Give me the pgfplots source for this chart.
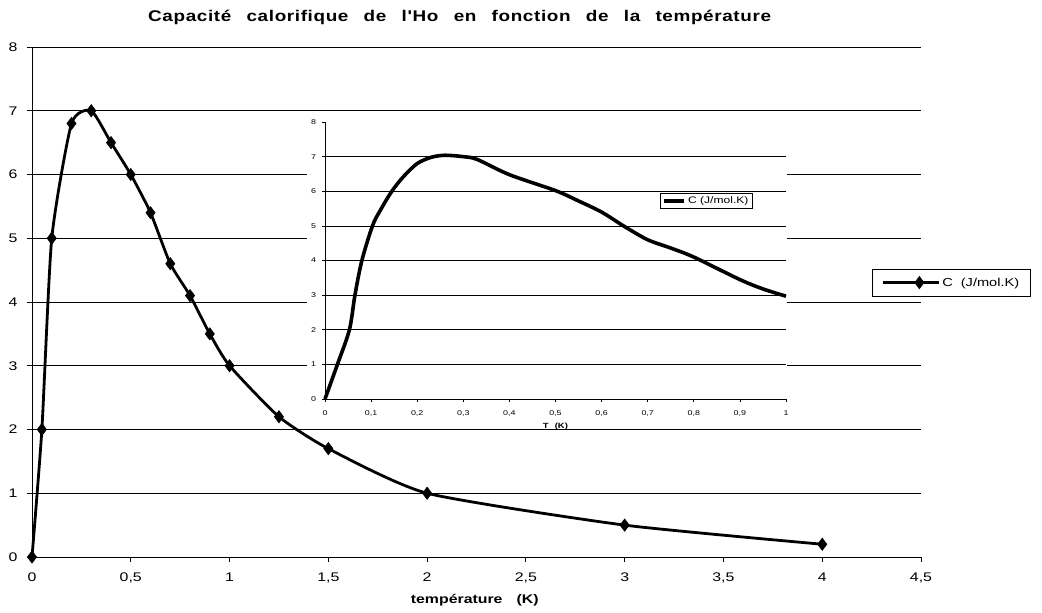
\documentclass[border=0pt]{standalone}
\usepackage{fontspec}
\setmainfont{Liberation Sans}[FakeStretch=1.27]
\newfontfamily\titlefont{Liberation Sans}[FakeStretch=1.22,WordSpace=2.6,LetterSpace=4]
\usepackage{pgfplots}
\pgfplotsset{compat=1.18}
\begin{document}
\begin{tikzpicture}
\path[use as bounding box] (0,0) rectangle (1042pt,613pt);
\begin{axis}[
  at={(32pt,56pt)}, anchor=south west,
  width=889pt, height=510pt, scale only axis,
  xmin=0, xmax=4.5, ymin=0, ymax=8,
  axis lines*=left,
  xtick={0,0.5,1,1.5,2,2.5,3,3.5,4,4.5},
  ytick={0,1,2,3,4,5,6,7,8},
  ymajorgrids,
  major grid style={black, line width=0.8pt},
  tick align=outside, major tick length=5pt,
  tick style={black, line width=0.8pt},
  axis line style={black, line width=0.9pt},
  /pgf/number format/use comma,
  /pgf/number format/assume math mode=true,
  ticklabel style={font=\fontsize{12.5}{14}\selectfont},
  xticklabel style={yshift=-7pt},
  yticklabel style={xshift=-6pt},
  title={\titlefont\bfseries Capacité calorifique de l'Ho en fonction de la température},
  title style={at={(0.481,1.046)}, anchor=center, font=\fontsize{15.5}{17}\selectfont},
  xlabel={\bfseries température\hspace{14pt}(K)},
  xlabel style={at={(0.498,-0.084)}, anchor=center, font=\fontsize{12.5}{14}\selectfont},
  legend style={at={(0.945,0.538)}, anchor=west, draw=black, line width=0.8pt,
    font=\fontsize{11.5}{13}\selectfont, inner xsep=9pt, inner ysep=6.5pt},
  legend image code/.code={\path (-17pt,0pt) -- (0pt,0pt); \draw[mark repeat=2,mark phase=2,#1] plot coordinates {(0pt,0pt) (19.5pt,0pt) (39pt,0pt)};},
  legend cell align=left,
  clip=false,
]
\addplot[black, line width=2.8pt, smooth, tension=0.35, mark=diamond*, mark size=6.2pt, mark options={solid, line width=0.5pt}] coordinates {
(0,0) (0.05,2) (0.1,5) (0.2,6.8) (0.3,7) (0.4,6.5) (0.5,6) (0.6,5.4) (0.7,4.6) (0.8,4.1) (0.9,3.5) (1,3) (1.25,2.2) (1.5,1.7) (2,1) (3,0.5) (4,0.2)
};
\addlegendentry{C\hspace{8pt}(J/mol.K)}
\fill[white] (axis cs:1.392,2.086) rectangle (axis cs:3.822,6.933);
\coordinate (insetSW) at (axis cs:1.483,2.478);
\end{axis}
\begin{axis}[
  at={(insetSW)}, anchor=south west,
  width=461pt, height=277pt, scale only axis,
  xmin=0, xmax=1, ymin=0, ymax=8,
  axis lines*=left,
  xtick={0,0.1,0.2,0.3,0.4,0.5,0.6,0.7,0.8,0.9,1},
  ytick={0,1,2,3,4,5,6,7},
  extra y ticks={8}, extra y tick style={grid=none},
  ymajorgrids,
  major grid style={black, line width=0.8pt},
  tick align=outside, major tick length=3pt,
  tick style={black, line width=0.7pt},
  axis line style={black, line width=0.8pt},
  /pgf/number format/use comma,
  /pgf/number format/assume math mode=true,
  ticklabel style={font=\fontsize{7}{8}\selectfont},
  xticklabel style={yshift=-5pt},
  yticklabel style={xshift=-2.5pt},
  xlabel={\bfseries T\hspace{6pt}(K)},
  xlabel style={at={(0.5,-0.101)}, anchor=center, font=\fontsize{7.5}{8}\selectfont},
  legend style={at={(0.727,0.715)}, anchor=west, draw=black, line width=0.8pt,
    font=\fontsize{9.5}{10}\selectfont, inner xsep=2pt, inner ysep=1.5pt},
  legend image code/.code={\draw[#1] (0pt,0pt) -- (20pt,0pt);},
  legend cell align=left,
  clip=false,
]
\addplot[black, line width=3.6pt, smooth, tension=0.5] coordinates {
(0,0) (0.027,1) (0.053,2) (0.065,3) (0.08,4) (0.103,5) (0.12,5.45) (0.145,6.0) (0.17,6.42) (0.2,6.8) (0.23,6.98) (0.26,7.04) (0.3,7.0) (0.33,6.92) (0.4,6.48) (0.5,6.02) (0.55,5.72) (0.6,5.4) (0.65,4.98) (0.7,4.6) (0.75,4.36) (0.8,4.1) (0.9,3.45) (0.95,3.18) (1,2.97)
};
\addlegendentry{C (J/mol.K)}
\end{axis}
\end{tikzpicture}
\end{document}
